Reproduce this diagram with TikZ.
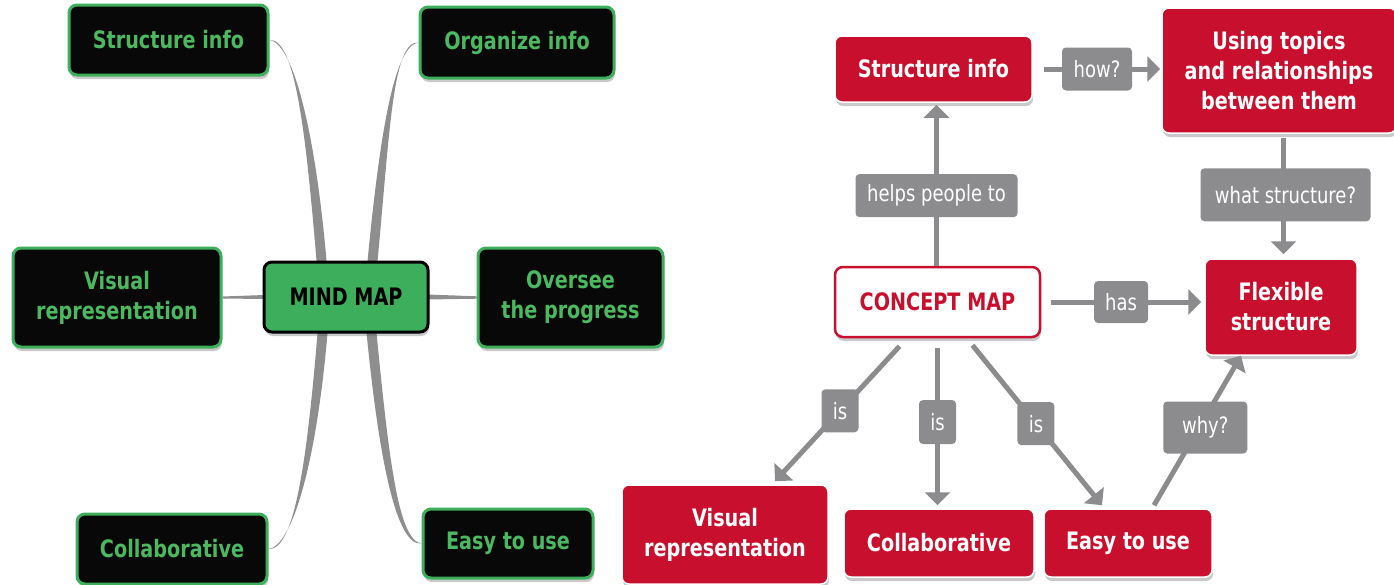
\documentclass[tikz,border=0pt]{standalone}
\usepackage{fontspec}
\setmainfont[FakeStretch=0.8]{DejaVu Sans}
\usetikzlibrary{arrows.meta,shadows,calc}
\definecolor{cmred}{HTML}{C8102E}
\definecolor{mmgreen}{HTML}{3DAE5B}
\definecolor{txtgreen}{HTML}{4CB860}
\definecolor{lblgray}{HTML}{8C8C8E}
\definecolor{brgray}{HTML}{8E8E8E}
\definecolor{boxblack}{HTML}{080808}
\pgfdeclarelayer{bg}
\pgfsetlayers{bg,main}
\begin{document}
\begin{tikzpicture}[x=1pt,y=-1pt,
  every node/.style={inner sep=0pt, align=center},
  boxfont/.style={font=\bfseries\fontsize{24}{30}\selectfont},
  shad/.style={drop shadow={fill=black!70, opacity=0.3, shadow xshift=1pt, shadow yshift=-4pt}},
  gbox/.style={boxfont, shad, rounded corners=8pt, fill=boxblack, draw=mmgreen, line width=3pt, text=txtgreen},
  mmbox/.style={boxfont, shad, rounded corners=8pt, fill=mmgreen, draw=black, line width=3pt, text=black},
  rbox/.style={boxfont, shad, rounded corners=7pt, fill=cmred, draw=white, line width=1.5pt, text=white},
  cmbox/.style={boxfont, shad, rounded corners=8pt, fill=white, draw=cmred, line width=2.5pt, text=cmred},
  lbl/.style={font=\fontsize{22.5}{27}\selectfont, fill=lblgray, text=white, rounded corners=4pt},
  arr/.style={draw=lblgray, line width=5pt, -{Triangle[width=25pt,length=13pt]}},
  branch/.style={fill=brgray}
]
\useasboundingbox (0,0) rectangle (1394,584);

% ---------- MIND MAP ----------
\node[gbox, minimum width=199pt, minimum height=70pt] (sig) at (168.5,40) {Structure info};
\node[gbox, minimum width=194pt, minimum height=71pt] (oig) at (517,42.5) {Organize info};
\node[gbox, minimum width=208pt, minimum height=99pt] (vrg) at (117,297.5) {Visual\\representation};
\node[mmbox, minimum width=164pt, minimum height=70pt] (mm) at (346,297) {MIND MAP};
\node[gbox, minimum width=185pt, minimum height=99pt] (opg) at (570.5,297.5) {Oversee\\the progress};
\node[gbox, minimum width=190pt, minimum height=70pt] (clg) at (172,549) {Collaborative};
\node[gbox, minimum width=170pt, minimum height=69pt] (eug) at (508,543.5) {Easy to use};

\begin{pgfonlayer}{bg}
\fill[branch] ($(mm.north)+(-29,6)$) .. controls +(-11,-132) and +(26,-2) .. (sig.east)
  .. controls +(24,3) and +(-11,-132) .. ($(mm.north)+(-19,6)$) -- cycle;
\fill[branch] ($(mm.north)+(21,6)$) .. controls +(13,-136) and +(-24,3) .. (oig.west)
  .. controls +(-26,-2) and +(13,-136) .. ($(mm.north)+(31,6)$) -- cycle;
\fill[branch] ($(mm.south)+(-28,-6)$) .. controls +(-11,134) and +(26,2) .. (clg.east)
  .. controls +(24,-3) and +(-11,134) .. ($(mm.south)+(-18,-6)$) -- cycle;
\fill[branch] ($(mm.south)+(20,-6)$) .. controls +(13,134) and +(-25,3) .. (eug.west)
  .. controls +(-23,-3) and +(13,134) .. ($(mm.south)+(30,-6)$) -- cycle;
\fill[branch] ($(vrg.east)+(0,-1)$) -- ($(mm.west)+(2,-2)$) -- ($(mm.west)+(2,2)$) -- ($(vrg.east)+(0,1)$) -- cycle;
\fill[branch] ($(mm.east)+(-2,-2.5)$) -- ($(opg.west)+(0,-1.2)$) -- ($(opg.west)+(0,1.2)$) -- ($(mm.east)+(-2,2.5)$) -- cycle;
\end{pgfonlayer}

% ---------- CONCEPT MAP ----------
\node[rbox, minimum width=197pt, minimum height=66pt] (sir) at (933.5,69) {Structure info};
\node[rbox, minimum width=234pt, minimum height=125pt] (utr) at (1279,70.5) {Using topics\\and relationships\\between them};
\node[cmbox, minimum width=205pt, minimum height=70pt] (cm) at (937.5,302) {CONCEPT MAP};
\node[rbox, minimum width=152pt, minimum height=96pt] (fsr) at (1281,307) {Flexible\\structure};
\node[rbox, minimum width=206pt, minimum height=99pt] (vrr) at (725,534.5) {Visual\\representation};
\node[rbox, minimum width=190pt, minimum height=68pt] (clr) at (939,543) {Collaborative};
\node[rbox, minimum width=168pt, minimum height=68pt] (eur) at (1128,543) {Easy to use};

\draw[arr, shorten >=2pt] ($(cm.north)+(-1,0)$) -- node[lbl, pos=0.43, minimum width=162pt, minimum height=43pt] {helps people to} ($(cm.north |- sir.south)+(-1,0)$);
\draw[arr, shorten <=11pt, shorten >=1pt] (sir.east) -- node[lbl, pos=0.5, minimum width=70pt, minimum height=43pt] {how?} (utr.west |- sir.east);
\draw[arr, shorten <=4pt, shorten >=4pt] ($(fsr.north |- utr.south)+(2.5,0)$) -- node[lbl, pos=0.49, xshift=2pt, minimum width=170pt, minimum height=53pt] {what structure?} ($(fsr.north)+(2.5,0)$);
\draw[arr, shorten <=10pt, shorten >=3pt] (cm.east) -- node[lbl, pos=0.49, minimum width=54pt, minimum height=42pt] {has} (fsr.west |- cm.east);
\draw[arr] ($(cm.south)+(-38,8)$) -- node[lbl, pos=0.478, minimum width=37pt, minimum height=43pt] {is} ($(vrr.north)+(50,-3)$);
\draw[arr] ($(cm.south)+(0,10)$) -- node[lbl, pos=0.47, minimum width=37pt, minimum height=44pt] {is} ($(clr.north)+(-1.5,-3)$);
\draw[arr] ($(cm.south)+(35,7)$) -- node[lbl, pos=0.49, minimum width=37pt, minimum height=43pt] {is} ($(eur.north)+(-26,-3)$);
\draw[arr] ($(eur.north)+(26,-3)$) -- node[lbl, pos=0.52, xshift=6pt, minimum width=84pt, minimum height=52pt] {why?} ($(fsr.south)+(-40,0)$);
\end{tikzpicture}
\end{document}
